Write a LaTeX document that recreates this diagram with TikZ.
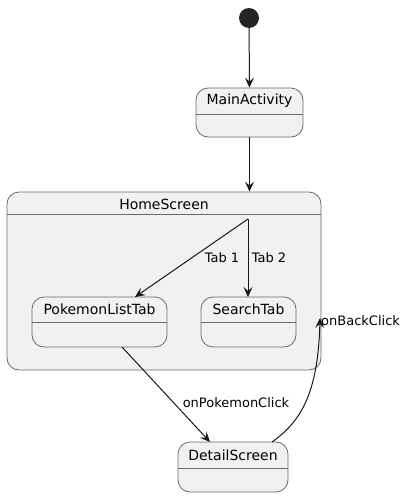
\documentclass[tikz,border=0pt]{standalone}
\usepackage{fontspec}
\setmainfont{DejaVu Sans}
\usetikzlibrary{arrows.meta}
\definecolor{statefill}{HTML}{F1F1F1}
\definecolor{stateline}{HTML}{181818}
\definecolor{boxline}{HTML}{6A6A6A}
\tikzset{
  statebox/.style={draw=boxline, fill=statefill, line width=0.8pt, rounded corners=12pt, inner sep=0pt},
  statename/.style={font=\fontsize{14}{16}\selectfont, inner sep=0pt, text=black},
  edgelabel/.style={font=\fontsize{13}{15}\selectfont, inner sep=0pt, text=black},
  trans/.style={draw=stateline, line width=1pt, -{Stealth[length=10pt,width=9pt,inset=4pt]}},
  sep/.style={draw=boxline, line width=0.8pt}
}
\begin{document}
\begin{tikzpicture}[x=1pt,y=-1pt]
\useasboundingbox (0,0) rectangle (406,496);
% initial
\node[circle, fill=stateline!95, minimum size=20pt, inner sep=0pt] (init) at (249,18) {};
% MainActivity
\node[statebox, minimum width=107pt, minimum height=49pt] (main) at (249.5,112.5) {};
\draw[sep] (196,114) -- (303,114);
\node[statename] (mainname) at (249.5,101) {MainActivity};
% HomeScreen
\node[statebox, minimum width=314pt, minimum height=178pt] (home) at (164,281) {};
\draw[sep] (7,214) -- (321,214);
\node[statename] (homename) at (164,204) {HomeScreen};
\coordinate (choice) at (248,219);
% PokemonListTab
\node[statebox, minimum width=135pt, minimum height=50pt] (plist) at (99.5,322) {};
\draw[sep] (32,322) -- (167,322);
\node[statename] (plistname) at (99.5,309.5) {PokemonListTab};
% SearchTab
\node[statebox, minimum width=95pt, minimum height=50pt] (search) at (248.5,322) {};
\draw[sep] (201,322) -- (296,322);
\node[statename] (searchname) at (248.5,309.5) {SearchTab};
% DetailScreen
\node[statebox, minimum width=110pt, minimum height=50pt] (detail) at (233,467) {};
\draw[sep] (178,468) -- (288,468);
\node[statename] (detailname) at (233,455) {DetailScreen};
\coordinate (backend) at (320,318);
% transitions
\draw[trans] (init) -- (main.north);
\draw[trans] (main.south) -- (main.south |- home.north);
\draw[trans] (choice) -- (135,297);
\draw[trans] (choice) -- (248,297);
\draw[trans] (122,347) -- (210,442);
\draw[trans] (272,442) .. controls (300,422) and (318,395) .. (backend);
% labels
\node[edgelabel] (tab1) at (222,258) {Tab 1};
\node[edgelabel] (tab2) at (269,258) {Tab 2};
\node[edgelabel] (pclick) at (236,403) {onPokemonClick};
\node[edgelabel, anchor=west] (bclick) at (321,321) {onBackClick};
\end{tikzpicture}
\end{document}
